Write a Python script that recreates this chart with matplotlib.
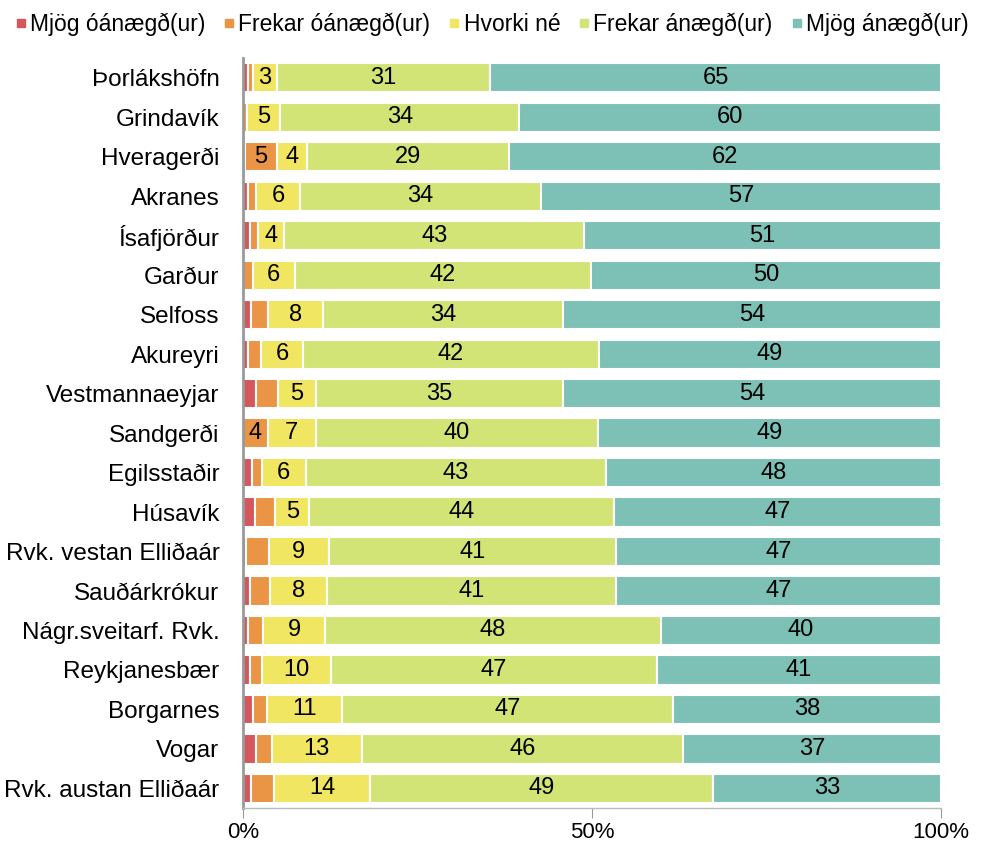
import matplotlib
matplotlib.use("Agg")
import matplotlib.pyplot as plt
from matplotlib.lines import Line2D
import numpy as np

plt.rcParams["font.family"] = ["Liberation Sans", "DejaVu Sans"]

places = ["Þorlákshöfn", "Grindavík", "Hveragerði", "Akranes", "Ísafjörður",
          "Garður", "Selfoss", "Akureyri", "Vestmannaeyjar", "Sandgerði",
          "Egilsstaðir", "Húsavík", "Rvk. vestan Elliðaár", "Sauðárkrókur",
          "Nágr.sveitarf. Rvk.", "Reykjanesbær", "Borgarnes", "Vogar",
          "Rvk. austan Elliðaár"]
categories = ["Mjög óánægð(ur)", "Frekar óánægð(ur)", "Hvorki né",
              "Frekar ánægð(ur)", "Mjög ánægð(ur)"]

# shares in %
mjog_oanaegd = [0.7, 0.0, 0.3, 0.7, 1.0, 0.0, 1.1, 0.7, 1.8, 0.0,
                1.3, 1.7, 0.5, 1.0, 0.7, 1.0, 1.4, 1.9, 1.2]
frekar_oanaegd = [0.7, 0.6, 4.6, 1.1, 1.1, 1.4, 2.5, 1.9, 3.2, 3.6,
                  1.4, 2.9, 3.2, 2.9, 2.2, 1.7, 2.0, 2.2, 3.3]
hvorki = [3.4, 4.7, 4.2, 6.4, 3.8, 6.0, 7.9, 6.0, 5.4, 6.8,
          6.3, 4.9, 8.6, 8.1, 8.8, 9.9, 10.8, 12.9, 13.7]
frekar_anaegd = [30.6, 34.3, 29.0, 34.45, 43.0, 42.4, 34.3, 42.4, 35.4, 40.4,
                 43.0, 43.7, 41.1, 41.4, 48.2, 46.7, 47.4, 46.0, 49.2]
mjog_anaegd = [64.6, 60.4, 61.9, 57.35, 51.1, 50.2, 54.2, 49.0, 54.2, 49.2,
               48.0, 46.8, 46.6, 46.6, 40.1, 40.7, 38.4, 37.0, 32.6]

colors = ["#d5575d", "#ea9445", "#f1e661", "#d3e476", "#7cc0b6"]

fig = plt.figure(figsize=(9.81, 8.44), dpi=100)
ax = fig.add_axes([0.2477, 0.0425, 0.7116, 0.8887])

series = [mjog_oanaegd, frekar_oanaegd, hvorki, frekar_anaegd, mjog_anaegd]
y = np.arange(len(places))
left = np.zeros(len(places))
for vals, col in zip(series, colors):
    vals = np.array(vals)
    ax.barh(y, vals, left=left, height=0.74, color=col,
            edgecolor="white", linewidth=1.5)
    for yi, l, v in zip(y, left, vals):
        if v > 3.35:
            ax.text(l + v / 2, yi, f"{round(v):.0f}", ha="center", va="center",
                    fontsize=17, color="black")
    left += vals

ax.set_ylim(len(places) - 0.5, -0.5)
ax.set_xlim(0, 100)
ax.set_yticks(y)
ax.set_yticklabels(places, fontsize=17.5)
ax.tick_params(axis="y", length=0, pad=17)
ax.set_xticks([0, 50, 100])
ax.set_xticklabels(["0%", "50%", "100%"], fontsize=16)
ax.tick_params(axis="x", length=7, color="#999999", pad=3)
for s in ["top", "right"]:
    ax.spines[s].set_visible(False)
ax.spines["left"].set_color("#999999")
ax.spines["left"].set_linewidth(2)
ax.spines["bottom"].set_color("#bbbbbb")
ax.spines["bottom"].set_linewidth(1)

handles = [Line2D([], [], marker="s", linestyle="none", markersize=6,
                  markerfacecolor=c, markeredgecolor=c) for c in colors]
fig.legend(handles, categories, loc="upper center", bbox_to_anchor=(0.5, 1.0),
           ncol=5, frameon=False, fontsize=16.5, handletextpad=0.05,
           columnspacing=0.7, handlelength=0.7, borderaxespad=0.15)

fig.savefig("out.png", dpi=100)
